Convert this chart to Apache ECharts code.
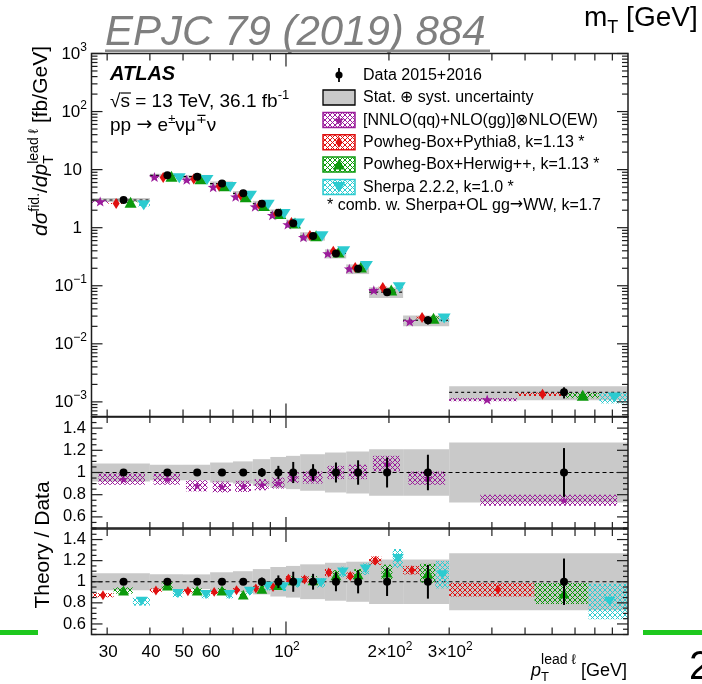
<!DOCTYPE html>
<html>
<head>
<meta charset="utf-8">
<script src="https://cdn.jsdelivr.net/npm/echarts@6/dist/echarts.min.js"></script>
<style>
html, body { margin: 0; padding: 0; background: #fff; }
#chart { width: 702px; height: 684px; }
</style>
</head>
<body>
<div id="chart"></div>
<script>
// ---- binning and measured values ----
const binEdges = [27, 40, 50, 60, 70, 80, 90, 100, 110, 130, 150, 175, 220, 300, 1000];
const dataXsec = [3.0, 7.97, 7.57, 5.74, 3.9, 2.59, 1.81, 1.19, 0.717, 0.36, 0.196, 0.0776, 0.0255, 0.00146];
const dataStatRel = [0.03, 0.03, 0.02, 0.02, 0.02, 0.04, 0.06, 0.095, 0.075, 0.09, 0.11, 0.135, 0.16, 0.22];
const dataTotRel = [0.08, 0.07, 0.07, 0.09, 0.10, 0.12, 0.14, 0.15, 0.165, 0.18, 0.19, 0.21, 0.21, 0.27];

// theory / data ratios and their half-widths
const ratioNNLO = [0.94, 0.94, 0.88, 0.87, 0.875, 0.89, 0.905, 0.955, 0.955, 1.0, 1.005, 1.08, 0.95, 0.75];
const errNNLO = [0.05, 0.05, 0.05, 0.05, 0.05, 0.05, 0.05, 0.05, 0.055, 0.06, 0.065, 0.07, 0.06, 0.05];
const ratioPP8 = [0.872, 0.917, 0.91, 0.904, 0.92, 0.936, 0.949, 1.029, 1.022, 1.087, 1.054, 1.2, 1.11, 0.926];
const errPP8 = [0.02, 0.02, 0.02, 0.02, 0.02, 0.025, 0.025, 0.03, 0.03, 0.035, 0.035, 0.04, 0.04, 0.065];
const ratioPH7 = [0.917, 0.965, 0.917, 0.917, 0.878, 0.933, 0.968, 1.013, 1.013, 1.06, 1.07, 1.087, 1.08, 0.888];
const errPH7 = [0.03, 0.03, 0.03, 0.03, 0.03, 0.03, 0.035, 0.04, 0.04, 0.05, 0.05, 0.075, 0.09, 0.1];
const ratioSherpa = [0.814, 0.888, 0.878, 0.878, 0.91, 0.958, 0.952, 0.99, 0.99, 1.093, 1.12, 1.22, 1.067, 0.814];
const errSherpa = [0.04, 0.035, 0.035, 0.035, 0.035, 0.04, 0.04, 0.045, 0.045, 0.05, 0.055, 0.09, 0.13, 0.17];

// ---- axis ticks and labels ----
const xTickVals = [30, 40, 50, 60, 70, 80, 90, 100, 200, 300, 400, 500, 600, 700, 800, 900];
const xMajorVals = [100];
const xLabelVals = [30, 40, 50, 60, 100, 200, 300];
const xLabelText = [['30'], ['40'], ['50'], ['60'], ['10', '2'], ['2\u00d710', '2'], ['3\u00d710', '2']];
const yTopLabelVals = [1e-3, 1e-2, 1e-1, 1, 10, 100, 1000];
const yTopLabelText = [['10', '\u22123'], ['10', '\u22122'], ['10', '\u22121'], ['1'], ['10'], ['10', '2'], ['10', '3']];
const ratioLabelVals = [0.6, 0.8, 1, 1.2, 1.4];
const ratioLabelText = ['0.6', '0.8', '1', '1.2', '1.4'];

const legendLabels = [
  'Data 2015+2016',
  'Stat. \u2295 syst. uncertainty',
  '[NNLO(qq)+NLO(gg)]\u2297NLO(EW)',
  'Powheg-Box+Pythia8, k=1.13 *',
  'Powheg-Box+Herwig++, k=1.13 *',
  'Sherpa 2.2.2, k=1.0 *'
];

// ---- styling ----
const COL = { nnlo: '#9b1b9b', pp8: '#e01010', ph7: '#0c9a0c', sherpa: '#2ccbd0', band: '#c9c9c9', frame: '#1e1e1e' };
const FONT = '"Liberation Sans", Arial, Helvetica, sans-serif';
const SYMFONT = '"DejaVu Sans", sans-serif';
const STAR = 'path://M0,-10 L2.35,-3.24 L9.51,-3.09 L3.8,1.24 L5.88,8.09 L0,4 L-5.88,8.09 L-3.8,1.24 L-9.51,-3.09 L-2.35,-3.24 Z';

// open cross-hatch fill used for the prediction bands
function hatch(color) {
  const c = document.createElement('canvas');
  c.width = 5; c.height = 5;
  const g = c.getContext('2d');
  g.fillStyle = color;
  for (let i = 0; i < 5; i++) { g.fillRect(i, i, 1, 1); g.fillRect(4 - i, i, 1, 1); }
  return { image: c, repeat: 'repeat' };
}

// ---- small text layout helper (sub/superscripts as separate runs) ----
const mctx = document.createElement('canvas').getContext('2d');
function fontOf(s) { return (s.it ? 'italic ' : '') + (s.b ? 'bold ' : '') + s.fs + 'px ' + (s.ff || FONT); }
function widthOf(s) { mctx.font = fontOf(s); return mctx.measureText(s.t).width; }
function textEl(s, x) {
  return {
    type: 'text', x: x, y: (s.dy || 0) - 0.35 * s.fs, silent: true,
    style: { text: s.t, font: fontOf(s), fill: s.c || '#000', align: 'left', verticalAlign: 'middle' }
  };
}
function textGroup(segs, base, x, y, opts) {
  opts = opts || {};
  let cx = 0;
  const kids = [];
  segs.forEach(raw => {
    if (raw.stack) {
      let w = 0;
      raw.stack.forEach(r => { const s = Object.assign({}, base, r); kids.push(textEl(s, cx)); w = Math.max(w, widthOf(s)); });
      cx += w;
    } else {
      const s = Object.assign({}, base, raw);
      const w = widthOf(s);
      kids.push(textEl(s, cx));
      if (s.over) {
        kids.push({ type: 'line', silent: true, shape: { x1: cx + s.over[0], y1: -s.over[2], x2: cx + w + s.over[1], y2: -s.over[2] },
          style: { stroke: s.c || '#000', lineWidth: 1.2 } });
      }
      cx += w;
    }
  });
  const shift = opts.align === 'right' ? -cx : opts.align === 'center' ? -cx / 2 : 0;
  kids.forEach(k => { if (k.type === 'text') k.x += shift; else { k.shape.x1 += shift; k.shape.x2 += shift; } });
  return { type: 'group', x: x, y: y, rotation: opts.rotation || 0, silent: true, children: kids };
}

// ---- geometry of the three panels ----
const GRIDS = [
  { left: 91.5, top: 53.5, width: 536.5, height: 363 },
  { left: 91.5, top: 417, width: 536.5, height: 111 },
  { left: 91.5, top: 529, width: 536.5, height: 105.5 }
];

const lo = i => binEdges[i];
const hi = i => binEdges[i + 1];
const at = (i, f) => lo(i) + f * (hi(i) - lo(i));
const xc = i => at(i, 0.5);

function boxSeries(gi, data, fill, z) {
  return {
    type: 'custom', xAxisIndex: gi, yAxisIndex: gi, z: z, silent: true, data: data,
    encode: { x: [0, 2], y: [1, 3] },
    renderItem: (p, api) => {
      const a = api.coord([api.value(0), api.value(1)]);
      const b = api.coord([api.value(2), api.value(3)]);
      return { type: 'rect', shape: { x: Math.min(a[0], b[0]), y: Math.min(a[1], b[1]), width: Math.abs(b[0] - a[0]), height: Math.abs(b[1] - a[1]) },
        style: { fill: fill } };
    }
  };
}
function segSeries(gi, data, style, z) {
  return {
    type: 'custom', xAxisIndex: gi, yAxisIndex: gi, z: z, silent: true, data: data,
    encode: { x: [0, 2], y: [1, 3] },
    renderItem: (p, api) => {
      const a = api.coord([api.value(0), api.value(1)]);
      const b = api.coord([api.value(2), api.value(3)]);
      return { type: 'line', shape: { x1: a[0], y1: a[1], x2: b[0], y2: b[1] }, style: Object.assign({ fill: null }, style) };
    }
  };
}
function markSeries(gi, data, m, z) {
  return {
    type: 'scatter', xAxisIndex: gi, yAxisIndex: gi, z: z, silent: true, data: data,
    symbol: m.sym, symbolSize: m.size, symbolRotate: m.rot || 0,
    itemStyle: { color: m.color, opacity: 1 }
  };
}
function tickSeries(gi, xRefY, yRefX, yTicks, lenX, lenY) {
  const data = xTickVals.map(v => [v, xRefY, xMajorVals.includes(v) ? 1 : 0, 0])
    .concat(yTicks.map(t => [yRefX, t[0], t[1], 1]));
  return {
    type: 'custom', xAxisIndex: gi, yAxisIndex: gi, z: 9, silent: true, data: data,
    renderItem: (p, api) => {
      const cs = p.coordSys;
      const st = { stroke: COL.frame, lineWidth: 1.2 };
      const kids = [];
      const pt = api.coord([api.value(0), api.value(1)]);
      if (api.value(3) === 0) {
        const L = api.value(2) ? lenX[1] : lenX[0];
        kids.push({ type: 'line', shape: { x1: pt[0], y1: cs.y + cs.height, x2: pt[0], y2: cs.y + cs.height - L }, style: st });
        kids.push({ type: 'line', shape: { x1: pt[0], y1: cs.y, x2: pt[0], y2: cs.y + L }, style: st });
      } else {
        const L = api.value(2) ? lenY[1] : lenY[0];
        kids.push({ type: 'line', shape: { x1: cs.x, y1: pt[1], x2: cs.x + L, y2: pt[1] }, style: st });
        kids.push({ type: 'line', shape: { x1: cs.x + cs.width, y1: pt[1], x2: cs.x + cs.width - L, y2: pt[1] }, style: st });
      }
      if (p.dataIndex === 0) {
        kids.push({ type: 'rect', shape: { x: cs.x, y: cs.y, width: cs.width, height: cs.height },
          style: { fill: null, stroke: COL.frame, lineWidth: 1.5 } });
      }
      return { type: 'group', children: kids };
    }
  };
}
function labelSeries(gi, data, build) {
  return {
    type: 'custom', xAxisIndex: gi, yAxisIndex: gi, z: 9, silent: true, data: data,
    renderItem: (p, api) => build(p.dataIndex, api.coord([api.value(0), api.value(1)]), p.coordSys)
  };
}

// ---- series ----
const series = [];
const dashStyle = { stroke: '#000', lineWidth: 1.1, lineDash: [4, 3] };

const models = [
  { r: ratioNNLO, e: errNNLO, color: COL.nnlo, sym: STAR, size: [11, 10] },
  { r: ratioPP8, e: errPP8, color: COL.pp8, sym: 'diamond', size: [7, 11] },
  { r: ratioPH7, e: errPH7, color: COL.ph7, sym: 'triangle', size: [12, 11] },
  { r: ratioSherpa, e: errSherpa, color: COL.sherpa, sym: 'triangle', size: [13, 10], rot: 180 }
];

// upper panel: cross-section
series.push(boxSeries(0, dataXsec.map((d, i) => [lo(i), d * (1 - dataTotRel[i]), hi(i), d * (1 + dataTotRel[i])]), COL.band, 1));
series.push(segSeries(0, dataXsec.map((d, i) => [lo(i), d, hi(i), d]), { stroke: '#000', lineWidth: 1.1, lineDash: [3, 3] }, 2));
models.forEach((m, q) => {
  series.push(boxSeries(0, dataXsec.map((d, i) => [at(i, q / 4), d * (m.r[i] - m.e[i]), at(i, (q + 1) / 4), d * (m.r[i] + m.e[i])]), hatch(m.color), 3));
  series.push(markSeries(0, dataXsec.map((d, i) => [at(i, (2 * q + 1) / 8), d * m.r[i]]), m, 4));
});
series.push(segSeries(0, dataXsec.map((d, i) => [xc(i), d * (1 - dataStatRel[i]), xc(i), d * (1 + dataStatRel[i])]), { stroke: '#000', lineWidth: 1.8 }, 5));
series.push(markSeries(0, dataXsec.map((d, i) => [xc(i), d]), { sym: 'circle', size: 8, color: '#000' }, 6));

// middle panel: fixed-order prediction / data
series.push(boxSeries(1, dataTotRel.map((t, i) => [lo(i), 1 - t, hi(i), 1 + t]), COL.band, 1));
series.push(segSeries(1, [[binEdges[0], 1, binEdges[binEdges.length - 1], 1]], dashStyle, 2));
series.push(boxSeries(1, ratioNNLO.map((r, i) => [at(i, 0.1), r - errNNLO[i], at(i, 0.9), r + errNNLO[i]]), hatch(COL.nnlo), 3));
series.push(markSeries(1, ratioNNLO.map((r, i) => [xc(i), r]), { sym: STAR, size: [9, 8.5], color: COL.nnlo }, 4));
series.push(segSeries(1, dataStatRel.map((s, i) => [xc(i), 1 - s, xc(i), 1 + s]), { stroke: '#000', lineWidth: 2 }, 5));
series.push(markSeries(1, dataStatRel.map((s, i) => [xc(i), 1]), { sym: 'circle', size: 8, color: '#000' }, 6));

// lower panel: parton-shower generators / data
series.push(boxSeries(2, dataTotRel.map((t, i) => [lo(i), 1 - t, hi(i), 1 + t]), COL.band, 1));
series.push(segSeries(2, [[binEdges[0], 1, binEdges[binEdges.length - 1], 1]], dashStyle, 2));
models.slice(1).forEach((m, q) => {
  series.push(boxSeries(2, m.r.map((r, i) => [at(i, q / 3), r - m.e[i], at(i, (q + 1) / 3), r + m.e[i]]), hatch(m.color), 3));
  series.push(markSeries(2, m.r.map((r, i) => [at(i, (2 * q + 1) / 6), r]), { sym: m.sym, size: m.size.map(v => v * 0.9), rot: m.rot, color: m.color }, 4));
});
series.push(segSeries(2, dataStatRel.map((s, i) => [xc(i), 1 - s, xc(i), 1 + s]), { stroke: '#000', lineWidth: 2 }, 5));
series.push(markSeries(2, dataStatRel.map((s, i) => [xc(i), 1]), { sym: 'circle', size: 8, color: '#000' }, 6));

// ticks on all four sides of each panel
const logTicks = [];
for (let n = -4; n <= 3; n++) {
  for (let k = 1; k <= 9; k++) {
    const v = k * Math.pow(10, n);
    if (v >= 5.6e-4 && v <= 1000.0001) logTicks.push([v, k === 1 ? 1 : 0]);
  }
}
const ratioTicks = [];
for (let j = 10; j <= 30; j++) {
  const v = j * 0.05;
  ratioTicks.push([v, (j % 4 === 0) ? 1 : 0]);
}
series.push(tickSeries(0, 1, 100, logTicks, [7, 13], [6, 11]));
series.push(tickSeries(1, 1, 100, ratioTicks, [6, 11], [5, 11]));
series.push(tickSeries(2, 1, 100, ratioTicks, [7, 13], [5, 11]));

// tick labels
series.push(labelSeries(0, yTopLabelVals.map(v => [binEdges[0], v]), (i, pt, cs) => {
  const parts = yTopLabelText[i];
  const segs = [{ t: parts[0] }];
  if (parts[1]) segs.push({ t: parts[1], fs: 12, dy: -8 });
  return textGroup(segs, { fs: 17 }, cs.x - (parts[1] ? 4.5 : 9.5), pt[1] + 6.5, { align: 'right' });
}));
[1, 2].forEach(gi => {
  series.push(labelSeries(gi, ratioLabelVals.map(v => [binEdges[0], v]), (i, pt, cs) =>
    textGroup([{ t: ratioLabelText[i] }], { fs: 16.5 }, cs.x - 5.5, pt[1] + 5.8, { align: 'right' })));
});
series.push(labelSeries(2, xLabelVals.map(v => [v, 1]), (i, pt, cs) => {
  const parts = xLabelText[i];
  const segs = [{ t: parts[0] }];
  if (parts[1]) segs.push({ t: parts[1], fs: 12, dy: -8 });
  return textGroup(segs, { fs: 17 }, pt[0] + 1, cs.y + cs.height + 24, { align: 'center' });
}));

// ---- annotations, legend, titles ----
const graphics = [];
// header
graphics.push(textGroup([{ t: 'EPJC 79 (2019) 884', it: true, c: '#7f7f7f' }], { fs: 42 }, 105, 48));
graphics.push({ type: 'rect', silent: true, shape: { x: 105, y: 49.5, width: 385, height: 2.5 }, style: { fill: '#8a8a8a' } });
graphics.push(textGroup([{ t: 'm' }, { t: 'T', fs: 18, dy: 6 }, { t: ' [GeV]' }], { fs: 28 }, 584, 28));
graphics.push({ type: 'rect', silent: true, shape: { x: 0, y: 630, width: 38, height: 5 }, style: { fill: '#1ec81e' } });
graphics.push({ type: 'rect', silent: true, shape: { x: 643, y: 630, width: 59, height: 5 }, style: { fill: '#1ec81e' } });
graphics.push(textGroup([{ t: '2' }], { fs: 40 }, 689, 682));

// experiment label
graphics.push(textGroup([{ t: 'ATLAS', it: true, b: true }], { fs: 20 }, 110, 81));
graphics.push(textGroup([{ t: '\u221a' }, { t: 's', over: [0, 1, 15] }, { t: ' = 13 TeV, 36.1 fb' }, { t: '-1', fs: 13, dy: -8 }], { fs: 19 }, 110, 108));
graphics.push(textGroup([{ t: 'pp ' }, { t: '\u2192', ff: SYMFONT }, { t: ' e' }, { t: '\u00b1', fs: 13, dy: -8 }, { t: '\u03bd\u03bc' }, { t: '\u2213', fs: 13, dy: -8 }, { t: '\u03bd' }], { fs: 19 }, 110, 132));

// legend
const rowY = [75, 97.5, 120, 142.3, 164.6, 187];
const LX = 339;
function starPts(cx, cy, r) {
  const pts = [];
  for (let k = 0; k < 10; k++) {
    const a = -Math.PI / 2 + k * Math.PI / 5;
    const rr = k % 2 === 0 ? r : r * 0.4;
    pts.push([cx + rr * Math.cos(a), cy + rr * Math.sin(a)]);
  }
  return pts;
}
const legendMarks = [
  null, null,
  { color: COL.nnlo, pts: cy => starPts(LX, cy + 0.5, 5.5) },
  { color: COL.pp8, pts: cy => [[LX, cy - 5.5], [LX + 3.5, cy], [LX, cy + 5.5], [LX - 3.5, cy]] },
  { color: COL.ph7, pts: cy => [[LX, cy - 5.5], [LX + 6, cy + 5], [LX - 6, cy + 5]] },
  { color: COL.sherpa, pts: cy => [[LX - 6.5, cy - 5], [LX + 6.5, cy - 5], [LX, cy + 5.5]] }
];
legendLabels.forEach((label, i) => {
  const cy = rowY[i];
  if (i === 0) {
    graphics.push({ type: 'line', silent: true, shape: { x1: LX, y1: cy - 7, x2: LX, y2: cy + 7 }, style: { stroke: '#000', lineWidth: 1.8 } });
    graphics.push({ type: 'circle', silent: true, shape: { cx: LX, cy: cy, r: 3.6 }, style: { fill: '#000' } });
  } else if (i === 1) {
    graphics.push({ type: 'rect', silent: true, shape: { x: 323, y: cy - 7.5, width: 32, height: 15 }, style: { fill: COL.band, stroke: '#000', lineWidth: 1.3 } });
  } else {
    const m = legendMarks[i];
    graphics.push({ type: 'rect', silent: true, shape: { x: 323, y: cy - 7.5, width: 32, height: 15 }, style: { fill: hatch(m.color), stroke: m.color, lineWidth: 1.5 } });
    graphics.push({ type: 'polygon', silent: true, shape: { points: m.pts(cy) }, style: { fill: m.color } });
  }
  graphics.push(textGroup([{ t: label }], { fs: 16 }, 363, cy + 5.7));
});
graphics.push(textGroup([{ t: '* comb. w. Sherpa+OL gg' }, { t: '\u2192', ff: SYMFONT }, { t: 'WW, k=1.7' }], { fs: 16 }, 327, 210.7));

// axis titles
graphics.push(textGroup([
  { t: 'd', it: true }, { t: '\u03c3', it: true }, { t: 'fid.', fs: 14, dy: -9 }, { t: '/' },
  { t: 'd', it: true }, { t: 'p', it: true },
  { stack: [{ t: 'lead \u2113', fs: 14, dy: -10 }, { t: 'T', fs: 14, dy: 5 }] },
  { t: ' [fb/GeV]' }
], { fs: 21 }, 49, 141, { rotation: Math.PI / 2, align: 'center' }));
graphics.push(textGroup([{ t: 'Theory / Data' }], { fs: 21 }, 51, 545, { rotation: Math.PI / 2, align: 'center' }));
graphics.push(textGroup([
  { t: 'p', it: true },
  { stack: [{ t: 'lead \u2113', fs: 14, dy: -12 }, { t: 'T', fs: 13, dy: 5 }] },
  { t: ' [GeV]' }
], { fs: 18 }, 627, 677, { align: 'right' }));

// ---- chart ----
const hiddenAxis = { axisLine: { show: false }, axisTick: { show: false }, axisLabel: { show: false }, splitLine: { show: false } };
const chart = echarts.init(document.getElementById('chart'), null, { renderer: 'canvas' });
chart.setOption({
  animation: false,
  backgroundColor: '#ffffff',
  grid: GRIDS.map(g => Object.assign({ containLabel: false }, g)),
  xAxis: GRIDS.map((g, i) => Object.assign({ type: 'log', logBase: 10, gridIndex: i, min: binEdges[0], max: binEdges[binEdges.length - 1] }, hiddenAxis)),
  yAxis: [
    Object.assign({ type: 'log', logBase: 10, gridIndex: 0, min: 5.6e-4, max: 1000 }, hiddenAxis),
    Object.assign({ type: 'value', gridIndex: 1, min: 0.5, max: 1.5 }, hiddenAxis),
    Object.assign({ type: 'value', gridIndex: 2, min: 0.5, max: 1.5 }, hiddenAxis)
  ],
  series: series,
  graphic: { elements: graphics }
});
</script>
</body>
</html>
